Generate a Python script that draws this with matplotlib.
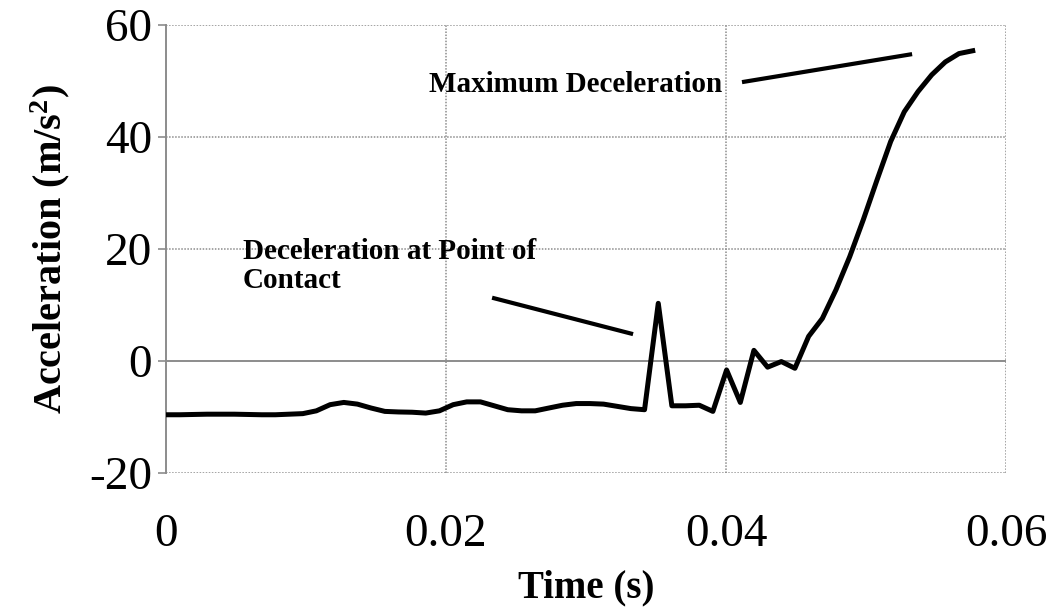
import matplotlib
matplotlib.use("Agg")
import matplotlib.pyplot as plt

plt.rcParams['font.family'] = ['Liberation Serif', 'DejaVu Serif']
plt.rcParams['mathtext.fontset'] = 'custom'
plt.rcParams['mathtext.rm'] = 'Liberation Serif:bold'
plt.rcParams['mathtext.default'] = 'rm'
plt.rcParams['axes.unicode_minus'] = False

# Datos
time_s = [0.0, 0.00098, 0.00195, 0.00293, 0.00391, 0.00488, 0.00586, 0.00684,
          0.00781, 0.00879, 0.00977, 0.01074, 0.01172, 0.0127, 0.01367, 0.01465,
          0.01563, 0.0166, 0.01758, 0.01855, 0.01953, 0.02051, 0.02148, 0.02246,
          0.02344, 0.02441, 0.02539, 0.02637, 0.02734, 0.02832, 0.0293, 0.03027,
          0.03125, 0.03223, 0.0332, 0.03418, 0.03516, 0.03613, 0.03711, 0.03809,
          0.03906, 0.04004, 0.04102, 0.04199, 0.04297, 0.04395, 0.04492, 0.0459,
          0.04688, 0.04785, 0.04883, 0.0498, 0.05078, 0.05176, 0.05273, 0.05371,
          0.05469, 0.05566, 0.05664, 0.05762]
accel = [-9.6, -9.6, -9.55, -9.5, -9.5, -9.5, -9.55, -9.6,
         -9.6, -9.5, -9.4, -8.9, -7.8, -7.4, -7.7, -8.4,
         -9.0, -9.1, -9.15, -9.3, -8.9, -7.8, -7.3, -7.3,
         -8.0, -8.7, -8.9, -8.9, -8.4, -7.9, -7.6, -7.6,
         -7.7, -8.1, -8.5, -8.7, 10.3, -8.0, -8.0, -7.9,
         -9.0, -1.6, -7.4, 1.9, -1.1, -0.1, -1.3, 4.4,
         7.6, 12.7, 18.6, 25.2, 32.3, 39.2, 44.5, 48.1,
         51.1, 53.4, 54.9, 55.4]

x_ticks = [0, 0.02, 0.04, 0.06]
x_tick_labels = ['0', '0.02', '0.04', '0.06']
y_ticks = [-20, 0, 20, 40, 60]

# Etiquetas y lineas de llamada
label_max = 'Maximum Deceleration'
label_contact = 'Deceleration at Point of\nContact'
callout_max = ([0.04114, 0.05329], [49.8, 54.8])
callout_contact = ([0.02329, 0.03336], [11.3, 4.8])

fig = plt.figure(figsize=(10.56, 6.13), dpi=100)
ax = fig.add_axes([0.1572, 0.2284, 0.7955, 0.7308])

ax.plot(time_s, accel, color='black', lw=3.6, solid_joinstyle='round', zorder=3)

ax.set_xlim(0, 0.06)
ax.set_ylim(-20, 60)
ax.set_xticks(x_ticks)
ax.set_xticklabels(x_tick_labels)
ax.set_yticks(y_ticks)

grid_kw = dict(color='#8c8c8c', lw=1.1, linestyle=(0, (1, 1)))
for yv in [-20, 20, 40, 60]:
    ax.axhline(yv, **grid_kw, zorder=1)
for xv in [0.02, 0.04, 0.06]:
    ax.axvline(xv, **grid_kw, zorder=1)
ax.axhline(0, color='#8c8c8c', lw=1.4, zorder=2)

for side in ['top', 'right', 'bottom']:
    ax.spines[side].set_visible(False)
ax.spines['left'].set_color('#8c8c8c')
ax.spines['left'].set_linewidth(1.4)

ax.tick_params(axis='y', length=6, width=1.2, color='#8c8c8c', labelsize=34, pad=4)
ax.tick_params(axis='x', length=0, labelsize=34, pad=29)

ax.set_xlabel('Time (s)', fontsize=28, fontweight='bold', labelpad=10)
ax.set_ylabel('Acceleration (m/s$^{2}$)', fontsize=29, fontweight='bold', labelpad=12)

ax.text(0.03971, 48.0, label_max, fontsize=21, fontweight='bold', ha='right', va='baseline')
ax.text(0.0055, 13.0, label_contact, fontsize=21, fontweight='bold', ha='left',
        va='baseline', linespacing=1.1)
ax.plot(*callout_max, color='black', lw=3.0, solid_capstyle='butt')
ax.plot(*callout_contact, color='black', lw=3.0, solid_capstyle='butt')

fig.savefig('out.png', dpi=100)
